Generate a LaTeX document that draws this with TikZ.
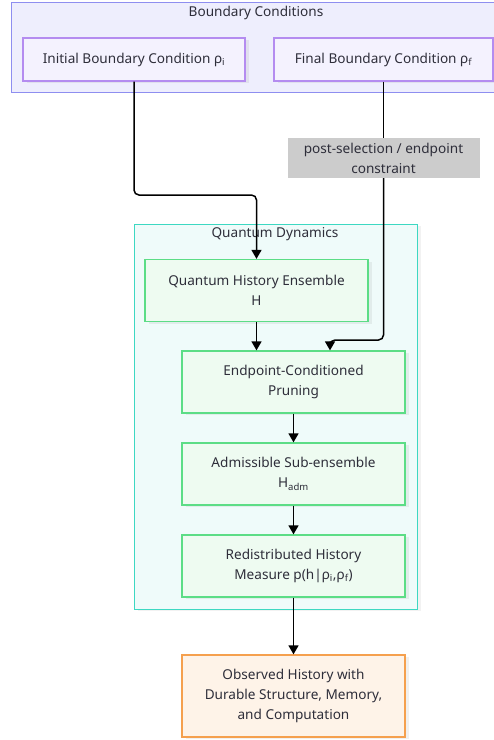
\documentclass[tikz,border=0pt]{standalone}
\usepackage{fontspec}
\setmainfont{Noto Sans}
\usetikzlibrary{arrows.meta,positioning,calc,shadows}
\definecolor{bcfill}{HTML}{EEEEFD}
\definecolor{bcline}{HTML}{8E8EF0}
\definecolor{bnfill}{HTML}{F4F2FE}
\definecolor{bnline}{HTML}{B48CF0}
\definecolor{qdfill}{HTML}{EFFBFA}
\definecolor{qdline}{HTML}{3DD8C2}
\definecolor{gnfill}{HTML}{EEFBF1}
\definecolor{gnline}{HTML}{5CDD86}
\definecolor{obfill}{HTML}{FEF3E8}
\definecolor{obline}{HTML}{F5A04E}
\definecolor{lblfill}{HTML}{CCCCCC}
\definecolor{txt}{HTML}{2E2E3A}
\tikzset{
  clus/.style={line width=1pt, inner sep=0pt},
  ctitle/.style={font=\fontsize{13.6}{16}\selectfont, text=txt},
  box/.style={line width=1.3pt, inner sep=0pt, align=center, text=txt,
              font=\fontsize{13.6}{20}\selectfont,
              drop shadow={opacity=0.12, shadow xshift=4pt, shadow yshift=-2pt}},
  bnode/.style={box, draw=bnline, fill=bnfill, minimum height=43pt},
  gnode/.style={box, draw=gnline, fill=gnfill, minimum width=223pt, minimum height=62pt},
  onode/.style={box, draw=obline, fill=obfill, minimum width=223pt, minimum height=82pt},
  lbl/.style={fill=lblfill, inner sep=0pt, minimum width=192pt, minimum height=40pt,
              align=center, text=txt, font=\fontsize{13.6}{20}\selectfont},
  ln/.style={line width=1.5pt, black},
  arr/.style={ln, rounded corners=5pt, -{Triangle[length=9pt, width=10pt]}},
}

\begin{document}
\begin{tikzpicture}[x=1pt, y=-1pt]
    \useasboundingbox (0,0) rectangle (494,740);
    % boundary conditions
    \node[clus, draw=bcline, fill=bcfill, minimum width=486pt, minimum height=90pt] (bc) at (254,47) {};
    \node[ctitle] (bct) at (256,13) {Boundary Conditions};
    \node[bnode, minimum width=222pt] (ini) at (134,59.5) {Initial Boundary Condition ρ\textsubscript{i}};
    \node[bnode, minimum width=219pt] (fin) at (383.5,59.5) {Final Boundary Condition ρ\textsubscript{f}};
    % quantum dynamics
    \node[clus, draw=qdline, fill=qdfill, minimum width=283pt, minimum height=385pt,
          drop shadow={opacity=0.10, shadow xshift=4pt, shadow yshift=-2pt}] (qd) at (275.5,416.5) {};
    \node[ctitle] (qdt) at (275,234) {Quantum Dynamics};
    \node[gnode] (qhe) at (256.5,290.5) {Quantum History Ensemble\\H};
    \node[gnode] (prune) at (293.5,382) {Endpoint-Conditioned\\Pruning};
    \node[gnode] (adm) at (293.5,474) {Admissible Sub-ensemble\\H\textsubscript{adm}};
    \node[gnode] (redis) at (293.5,566) {Redistributed History\\Measure p(h|ρ\textsubscript{i},ρ\textsubscript{f})};
    \node[onode] (obs) at (293.5,696) {Observed History with\\Durable Structure, Memory,\\and Computation};
    \node[lbl] (ps) at (383.5,158) {post-selection / endpoint\\constraint};
    % connectors
    \coordinate (b1) at (256.5,195);
    \coordinate (b2) at (330,340);
    \draw[arr] (ini.south) |- (b1) -- (qhe.north);
    \draw[ln] (fin.south) -- (ps.north);
    \draw[arr] (ps.south) |- (b2) -- (prune.north -| b2);
    \draw[arr] (qhe.south) -- (qhe.south |- prune.north);
    \draw[arr] (prune) -- (adm);
    \draw[arr] (adm) -- (redis);
    \draw[arr] (redis) -- (obs);
\end{tikzpicture}
\end{document}
